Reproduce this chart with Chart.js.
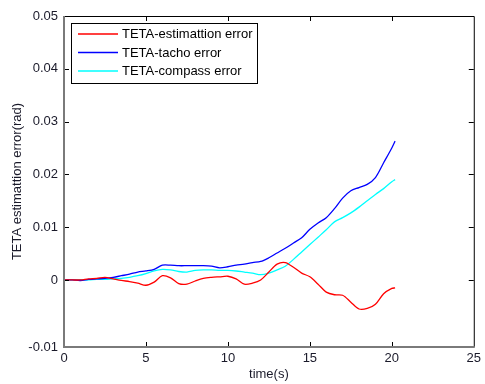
<!DOCTYPE html>
<html>
<head>
<meta charset="utf-8">
<script src="https://cdn.jsdelivr.net/npm/chart.js@4.4.0/dist/chart.umd.min.js"></script>
<style>
  html, body { margin: 0; padding: 0; background: #fff; }
  #wrap { width: 485px; height: 384px; }
</style>
</head>
<body>
<div id="wrap"><canvas id="errChart" width="485" height="384"></canvas></div>
<script>
// time samples (s)
const time = [0, 0.5, 1, 1.5, 2, 2.5, 3, 3.5, 4, 4.5, 5, 5.5, 6, 6.5, 7, 7.5, 8, 8.5, 9, 9.5,
  10, 10.5, 11, 11.5, 12, 12.5, 13, 13.5, 14, 14.5, 15, 15.5, 16, 16.5, 17, 17.5, 18, 18.5, 19, 19.5, 20, 20.2];

// errors (rad)
const estimationErr = [0, 0, 0, 0.0002, 0.0003, 0.0005, 0.0002, -0.0001, -0.0003, -0.0006,
  -0.0010, -0.0004, 0.0008, 0.0004, -0.0007, -0.0008, -0.0002, 0.0003, 0.0005, 0.0006,
  0.0007, 0.0002, -0.0008, -0.0006, 0, 0.0015, 0.0030, 0.0033, 0.0024, 0.0013,
  0.0006, -0.0008, -0.0023, -0.0028, -0.0029, -0.0042, -0.0055, -0.0054, -0.0046, -0.0026,
  -0.0016, -0.0015];
const tachoErr = [0, 0, -0.0001, 0.0001, 0.0002, 0.0003, 0.0005, 0.0008, 0.0011, 0.0015,
  0.0017, 0.0020, 0.0028, 0.0028, 0.0027, 0.0027, 0.0027, 0.0027, 0.0026, 0.0023,
  0.0025, 0.0028, 0.0030, 0.0033, 0.0035, 0.0042, 0.0051, 0.0060, 0.0070, 0.0080,
  0.0096, 0.0108, 0.0118, 0.0135, 0.0155, 0.0169, 0.0175, 0.0181, 0.0194, 0.0222,
  0.0250, 0.0263];
const compassErr = [0, 0, 0, 0, 0.0001, 0.0001, 0.0002, 0.0003, 0.0005, 0.0008,
  0.0012, 0.0017, 0.0020, 0.0019, 0.0016, 0.0015, 0.0018, 0.0019, 0.0019, 0.0018,
  0.0018, 0.0017, 0.0015, 0.0013, 0.0010, 0.0013, 0.0019, 0.0026, 0.0039, 0.0053,
  0.0067, 0.0081, 0.0095, 0.0110, 0.0118, 0.0127, 0.0138, 0.0150, 0.0162, 0.0173,
  0.0186, 0.0190];

const seriesNames = ['TETA-estimattion error', 'TETA-tacho error', 'TETA-compass error'];
const seriesColors = ['#ff0000', '#0000ff', '#00ffff'];

const xTicks = [0, 5, 10, 15, 20, 25];
const yTicks = [0, 0.01, 0.02, 0.03, 0.04, 0.05];
const yTickLabels = ['-0.01', '0', '0.01', '0.02', '0.03', '0.04', '0.05'];
// the bottom edge of the figure sits a bit lower than one step below 0
const yMin = -0.0127;

const tickFont = { family: 'Arial, "Liberation Sans", sans-serif', size: 13 };
const textColor = '#1a1a2a';

const toPoints = vals => vals.map((v, i) => ({ x: time[i], y: v }));

// MATLAB style box, inward ticks and legend
const matlabFrame = {
  id: 'matlabFrame',
  afterDatasetsDraw(chart) {
    const { ctx, chartArea: a, scales } = chart;
    const tl = 5;
    ctx.save();

    // inward tick marks on all four sides
    ctx.strokeStyle = '#000';
    ctx.lineWidth = 1;
    ctx.beginPath();
    xTicks.slice(1, -1).forEach(v => {
      const px = Math.round(scales.x.getPixelForValue(v)) + 0.5;
      ctx.moveTo(px, a.bottom); ctx.lineTo(px, a.bottom - tl);
      ctx.moveTo(px, a.top); ctx.lineTo(px, a.top + tl);
    });
    scales.y.ticks.slice(1, -1).forEach(t => {
      const py = Math.round(scales.y.getPixelForValue(t.value)) + 0.5;
      ctx.moveTo(a.left, py); ctx.lineTo(a.left + tl, py);
      ctx.moveTo(a.right, py); ctx.lineTo(a.right - tl, py);
    });
    ctx.stroke();

    // top and right edges: thin black
    ctx.beginPath();
    ctx.moveTo(a.left, a.top + 0.5); ctx.lineTo(a.right + 0.5, a.top + 0.5);
    ctx.lineTo(a.right + 0.5, a.bottom);
    ctx.stroke();

    // left and bottom edges: grey, heavier
    ctx.strokeStyle = '#7a7a7a';
    ctx.lineWidth = 2;
    ctx.beginPath();
    ctx.moveTo(a.left, a.top); ctx.lineTo(a.left, a.bottom);
    ctx.lineTo(a.right + 1, a.bottom);
    ctx.stroke();

    // legend box
    const bx = 71.5, by = 23.5, bw = 186, bh = 60;
    ctx.fillStyle = '#fff';
    ctx.fillRect(bx, by, bw, bh);
    ctx.strokeStyle = '#000';
    ctx.lineWidth = 1;
    ctx.strokeRect(bx, by, bw, bh);
    ctx.font = '13px Arial, "Liberation Sans", sans-serif';
    ctx.textBaseline = 'middle';
    ctx.textAlign = 'left';
    chart.data.datasets.forEach((ds, i) => {
      const ly = 34 + i * 18.5;
      ctx.strokeStyle = ds.borderColor;
      ctx.lineWidth = 1.3;
      ctx.beginPath();
      ctx.moveTo(78, ly); ctx.lineTo(118, ly);
      ctx.stroke();
      ctx.fillStyle = '#000';
      ctx.fillText(ds.label, 122, ly + 0.5);
    });
    ctx.restore();
  }
};

const ctx = document.getElementById('errChart').getContext('2d');
new Chart(ctx, {
  type: 'line',
  data: {
    datasets: [estimationErr, tachoErr, compassErr].map((vals, i) => ({
      label: seriesNames[i],
      data: toPoints(vals),
      borderColor: seriesColors[i],
      backgroundColor: seriesColors[i],
      borderWidth: 1.3,
      pointRadius: 0,
      tension: 0.3,
      fill: false
    }))
  },
  options: {
    responsive: false,
    animation: false,
    devicePixelRatio: 1,
    layout: { padding: { top: 16, right: 5, left: 0, bottom: 0 } },
    plugins: {
      legend: { display: false },
      tooltip: { enabled: false }
    },
    scales: {
      x: {
        type: 'linear',
        min: 0,
        max: 25,
        afterBuildTicks: scale => { scale.ticks = xTicks.map(v => ({ value: v })); },
        afterFit: scale => { scale.height = 37; },
        grid: { display: false, drawTicks: false },
        border: { display: false },
        ticks: { padding: 4, font: tickFont, color: textColor, maxRotation: 0, autoSkip: false },
        title: { display: true, text: 'time(s)', font: tickFont, color: textColor, padding: { top: 0, bottom: 2 } }
      },
      y: {
        type: 'linear',
        min: yMin,
        max: 0.05,
        afterBuildTicks: scale => { scale.ticks = [yMin, ...yTicks].map(v => ({ value: v })); },
        afterFit: scale => { scale.width = 64; },
        grid: { display: false, drawTicks: false },
        border: { display: false },
        ticks: {
          padding: 6,
          font: tickFont,
          color: textColor,
          autoSkip: false,
          callback: (value, index) => yTickLabels[index]
        },
        title: { display: true, text: 'TETA estimattion error(rad)', font: tickFont, color: textColor, padding: { top: 10, bottom: 0 } }
      }
    }
  },
  plugins: [matlabFrame]
});
</script>
</body>
</html>
